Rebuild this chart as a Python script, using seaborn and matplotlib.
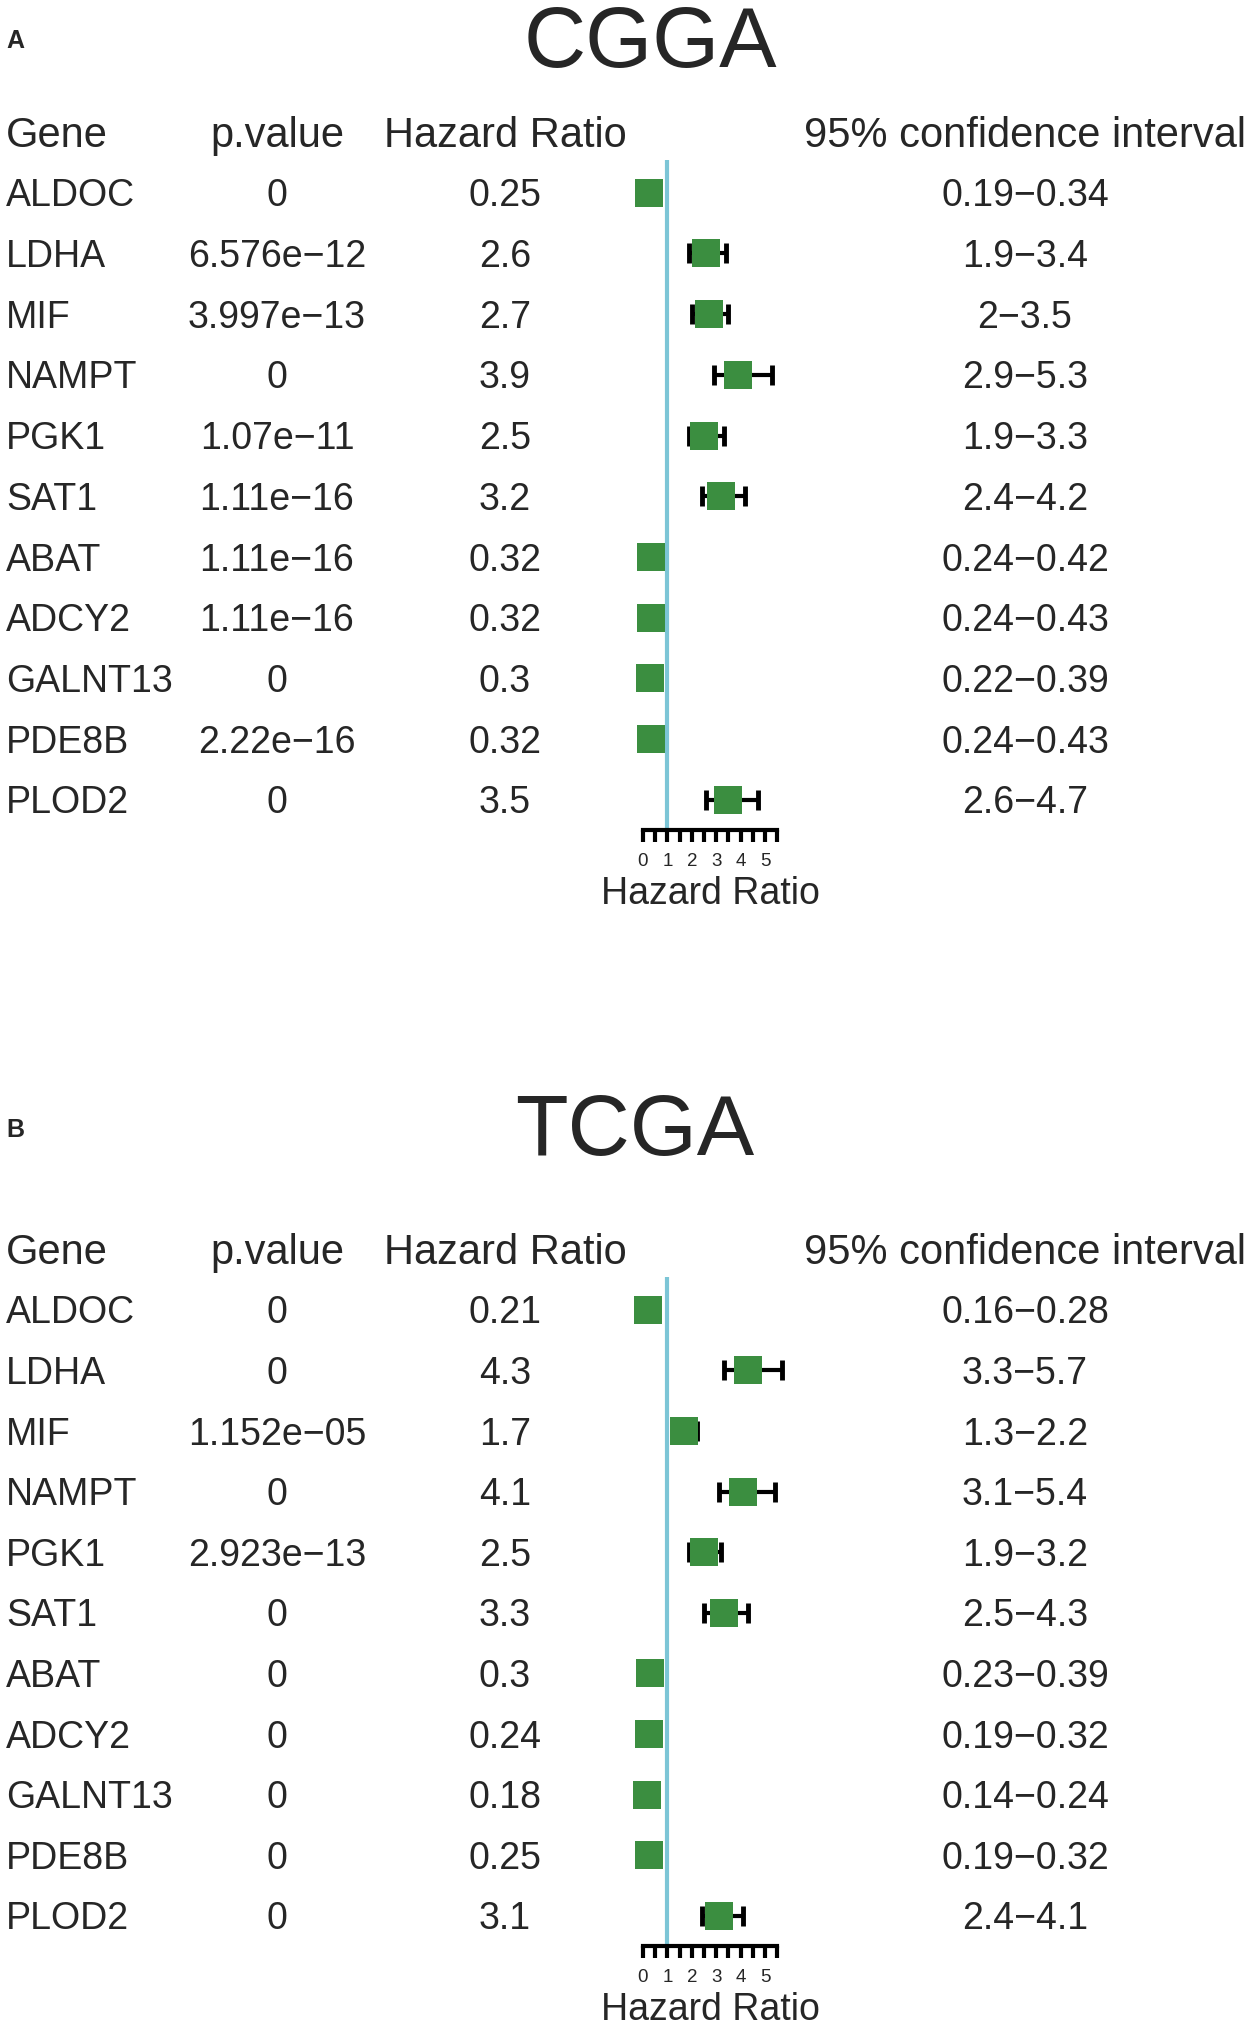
import numpy as np
import pandas as pd
import matplotlib
matplotlib.use("Agg")
import matplotlib.pyplot as plt
import matplotlib.transforms as mtransforms
import seaborn as sns

sns.set_style("white")
plt.rcParams["font.family"] = ["Liberation Sans", "DejaVu Sans"]

MINUS = "\u2212"

genes = ["ALDOC", "LDHA", "MIF", "NAMPT", "PGK1", "SAT1",
         "ABAT", "ADCY2", "GALNT13", "PDE8B", "PLOD2"]

# CGGA cohort
cgga_p = ["0", "6.576e-12", "3.997e-13", "0", "1.07e-11", "1.11e-16",
          "1.11e-16", "1.11e-16", "0", "2.22e-16", "0"]
cgga_hr = [0.25, 2.6, 2.7, 3.9, 2.5, 3.2, 0.32, 0.32, 0.3, 0.32, 3.5]
cgga_lo = [0.19, 1.9, 2, 2.9, 1.9, 2.4, 0.24, 0.24, 0.22, 0.24, 2.6]
cgga_hi = [0.34, 3.4, 3.5, 5.3, 3.3, 4.2, 0.42, 0.43, 0.39, 0.43, 4.7]

# TCGA cohort
tcga_p = ["0", "0", "1.152e-05", "0", "2.923e-13", "0",
          "0", "0", "0", "0", "0"]
tcga_hr = [0.21, 4.3, 1.7, 4.1, 2.5, 3.3, 0.3, 0.24, 0.18, 0.25, 3.1]
tcga_lo = [0.16, 3.3, 1.3, 3.1, 1.9, 2.5, 0.23, 0.19, 0.14, 0.19, 2.4]
tcga_hi = [0.28, 5.7, 2.2, 5.4, 3.2, 4.3, 0.39, 0.32, 0.24, 0.32, 4.1]

GREEN = "#3b8e40"
BLUE = "#7cc5d6"
W, H = 1258, 2023

fig = plt.figure(figsize=(W / 100, H / 100), dpi=100)


def forest(name, letter, pvals, hr, lo, hi, top_px, bot_px, title_x, title_base, letter_base):
    df = pd.DataFrame({"gene": genes, "p": pvals, "hr": hr, "lo": lo, "hi": hi})
    df["row"] = np.arange(len(df))

    x0_px, unit = 643, 24.4
    xmin, xmax = -0.5, 6.3
    ax = fig.add_axes([(x0_px + xmin * unit) / W, 1 - bot_px / H,
                       (xmax - xmin) * unit / W, (bot_px - top_px) / H])
    ax.set_xlim(xmin, xmax)
    ax.set_ylim(len(df) - 0.5, -0.54)

    ax.axvline(1, color=BLUE, lw=3, zorder=1)
    ax.errorbar(df["hr"], df["row"],
                xerr=[df["hr"] - df["lo"], df["hi"] - df["hr"]],
                fmt="none", ecolor="black", elinewidth=3,
                capsize=7, capthick=3.5, zorder=2)
    sns.scatterplot(data=df, x="hr", y="row", marker="s", s=390,
                    color=GREEN, linewidth=0, ax=ax, zorder=3, legend=False)

    for s in ["top", "left", "right"]:
        ax.spines[s].set_visible(False)
    ax.spines["bottom"].set_bounds(0, 5.5)
    ax.spines["bottom"].set_linewidth(3)
    ax.spines["bottom"].set_color("black")
    ax.set_xticks(range(6))
    ax.set_xticks(np.arange(0.5, 5.6, 1), minor=True)
    ax.set_yticks([])
    ax.tick_params(axis="x", which="both", direction="out", length=8.5,
                   width=3, color="black", bottom=True, pad=8, labelsize=13.5)
    ax.set_xlabel("")
    ax.set_ylabel("")
    ax.annotate("Hazard Ratio", xy=(2.75, 0), xycoords=("data", "axes fraction"),
                xytext=(0, -46), textcoords="offset points",
                ha="center", va="center", fontsize=27)

    tr = mtransforms.blended_transform_factory(fig.transFigure, ax.transData)
    fs, hfs, dy = 27, 30, 0.06
    heads = [("Gene", 6, "left"), ("p.value", 277, "center"),
             ("Hazard Ratio", 505, "center"), ("95% confidence interval", 1025, "center")]
    for txt, xp, ha in heads:
        ax.text(xp / W, -1.0 + dy, txt, transform=tr, ha=ha, va="center", fontsize=hfs)
    for _, r in df.iterrows():
        y = r["row"] + dy
        ax.text(6 / W, y, r["gene"], transform=tr, ha="left", va="center", fontsize=fs)
        ax.text(277 / W, y, r["p"].replace("-", MINUS), transform=tr,
                ha="center", va="center", fontsize=fs)
        ax.text(505 / W, y, f"{r['hr']:g}", transform=tr,
                ha="center", va="center", fontsize=fs)
        ax.text(1025 / W, y, f"{r['lo']:g}{MINUS}{r['hi']:g}", transform=tr,
                ha="center", va="center", fontsize=fs)

    fig.text(title_x / W, 1 - title_base / H, name, ha="center", va="baseline", fontsize=62)
    fig.text(6 / W, 1 - letter_base / H, letter, ha="left", va="baseline",
             fontsize=18, fontweight="bold")
    return ax


forest("CGGA", "A", cgga_p, cgga_hr, cgga_lo, cgga_hi,
       top_px=160, bot_px=830, title_x=650, title_base=67, letter_base=48)
forest("TCGA", "B", tcga_p, tcga_hr, tcga_lo, tcga_hi,
       top_px=1277, bot_px=1946, title_x=635, title_base=1155, letter_base=1137)

fig.savefig("out.png", dpi=100)
